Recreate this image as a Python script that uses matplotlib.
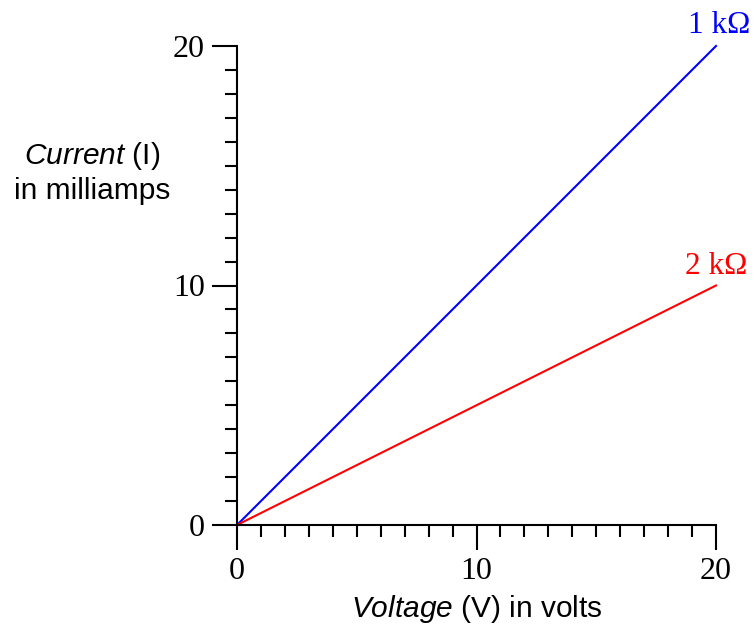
import numpy as np
import matplotlib.pyplot as plt
from matplotlib.ticker import MultipleLocator

# Ohm's law lines: current in mA vs voltage in V
voltage = [0, 20]
current_1k = [0, 20]
current_2k = [0, 10]
tick_values = [0, 10, 20]
labels = ["1 k\u03a9", "2 k\u03a9"]

serif = "Liberation Serif"
sans = "Liberation Sans"

plt.rcParams["mathtext.fontset"] = "custom"
plt.rcParams["mathtext.it"] = "Liberation Sans:italic"
plt.rcParams["mathtext.rm"] = "Liberation Sans"

fig = plt.figure(figsize=(7.54, 6.35), dpi=100)
ax = fig.add_axes([237 / 754, 110 / 635, 479 / 754, 479 / 635])

ax.plot(voltage, current_1k, color="#0000ff", lw=1.5, clip_on=False)
ax.plot(voltage, current_2k, color="#ff0000", lw=1.5, clip_on=False)

ax.set_xlim(0, 20)
ax.set_ylim(0, 20)
ax.spines["top"].set_visible(False)
ax.spines["right"].set_visible(False)
for s in ("left", "bottom"):
    ax.spines[s].set_linewidth(1.5)

ax.set_xticks(tick_values)
ax.set_yticks(tick_values)
ax.xaxis.set_minor_locator(MultipleLocator(1))
ax.yaxis.set_minor_locator(MultipleLocator(1))
ax.tick_params(which="major", direction="out", length=18, width=1.5, pad=5)
ax.tick_params(which="minor", direction="out", length=8.5, width=1.5)
for lab in ax.get_xticklabels() + ax.get_yticklabels():
    lab.set_fontfamily(serif)
    lab.set_fontsize(23)

# line labels
ax.text(20.15, 20.25, labels[0], color="#0000ff", fontsize=22.5, family=serif,
        ha="center", va="bottom", clip_on=False)
ax.text(20.0, 10.2, labels[1], color="#ff0000", fontsize=22.5, family=serif,
        ha="center", va="bottom", clip_on=False)

# axis titles
fig.text(92 / 754, 1 - 156 / 635, r"$\it{Current}$ (I)", fontsize=21.5, family=sans,
         ha="center", va="center")
fig.text(92 / 754, 1 - 191 / 635, "in milliamps", fontsize=21.5, family=sans,
         ha="center", va="center")
fig.text(477 / 754, 1 - 609 / 635, r"$\it{Voltage}$ (V) in volts", fontsize=21.5,
         family=sans, ha="center", va="center")

fig.savefig("out.png", dpi=100)
